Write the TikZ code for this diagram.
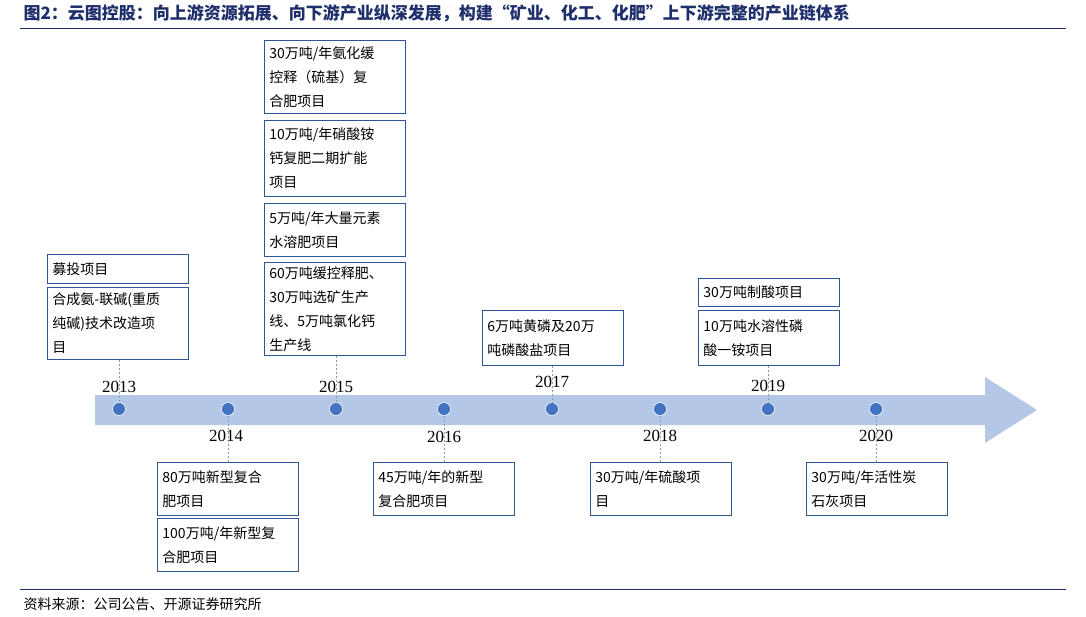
\documentclass[tikz,border=0pt]{standalone}
\usepackage{fontspec}
\setmainfont{Liberation Serif}
\newfontfamily\cjk{Noto Sans CJK SC}
\definecolor{navy}{HTML}{1F2F6B}
\definecolor{bandc}{HTML}{B4C7E7}
\definecolor{dotc}{HTML}{4472C4}
\definecolor{boxc}{HTML}{2F5597}
\begin{document}
\begin{tikzpicture}[x=1pt,y=-1pt,
  bx/.style={draw=boxc,line width=0.9pt,anchor=north west,inner xsep=5pt,inner ysep=2pt,align=left,font=\cjk\fontsize{14}{24}\selectfont,text width=131pt},
  dotn/.style={circle,fill=dotc,draw=white,line width=0.6pt,minimum size=13pt,inner sep=0pt},
  yr/.style={font=\fontsize{17}{17}\selectfont},
  dl/.style={draw=dotc!70,line width=0.6pt,dash pattern=on 2pt off 2pt}]
\useasboundingbox (0,0) rectangle (1086,616);
\node[anchor=west,text=navy,font=\cjk\bfseries\fontsize{17}{17}\selectfont] (title) at (20,13) {图2：云图控股：向上游资源拓展、向下游产业纵深发展，构建“矿业、化工、化肥”上下游完整的产业链体系};
\draw[navy,line width=1pt] (20,28) -- (1066,28);
\fill[bandc] (95,395) -- (985,395) -- (985,377) -- (1037,410) -- (985,443) -- (985,425) -- (95,425) -- cycle;
\foreach \n/\x in {a/119,b/228,c/336,d/444,e/552,f/660,g/768,h/876}{\node[dotn] (\n) at (\x,409) {};}
\node[yr] at (119,387) {2013};
\node[yr] at (226,436) {2014};
\node[yr] at (336,387) {2015};
\node[yr] at (444,437) {2016};
\node[yr] at (552,382) {2017};
\node[yr] at (660,436) {2018};
\node[yr] at (768,386) {2019};
\node[yr] at (876,436) {2020};
% boxes
\node[bx,minimum height=29pt] (m1) at (47,254) {募投项目};
\node[bx,minimum height=72pt] (m2) at (47,287) {合成氨-联碱(重质\\纯碱)技术改造项\\目};
\node[bx,minimum height=73pt] (c1) at (264,40) {30万吨/年氨化缓\\控释（硫基）复\\合肥项目};
\node[bx,minimum height=76pt] (c2) at (264,120) {10万吨/年硝酸铵\\钙复肥二期扩能\\项目};
\node[bx,minimum height=53pt] (c3) at (264,203) {5万吨/年大量元素\\水溶肥项目};
\node[bx,minimum height=93pt] (c4) at (264,262) {60万吨缓控释肥、\\30万吨选矿生产\\线、5万吨氯化钙\\生产线};
\node[bx,minimum height=55pt] (e1) at (482,310) {6万吨黄磷及20万\\吨磷酸盐项目};
\node[bx,minimum height=28pt] (g1) at (698,278) {30万吨制酸项目};
\node[bx,minimum height=55pt] (g2) at (698,310) {10万吨水溶性磷\\酸一铵项目};
\node[bx,minimum height=53pt] (b1) at (157,462) {80万吨新型复合\\肥项目};
\node[bx,minimum height=53pt] (b2) at (157,518) {100万吨/年新型复\\合肥项目};
\node[bx,minimum height=53pt] (d1) at (373,462) {45万吨/年的新型\\复合肥项目};
\node[bx,minimum height=53pt] (f1) at (590,462) {30万吨/年硫酸项\\目};
\node[bx,minimum height=53pt] (h1) at (806,462) {30万吨/年活性炭\\石灰项目};
% dashed connectors
\draw[dl] (m2.south -| a) -- (a.north);
\draw[dl] (c4.south -| c) -- (c.north);
\draw[dl] (e1.south -| e) -- (e.north);
\draw[dl] (g2.south -| g) -- (g.north);
\draw[dl] (b) -- (b1.north -| b);
\draw[dl] (d) -- (d1.north -| d);
\draw[dl] (f) -- (f1.north -| f);
\draw[dl] (h) -- (h1.north -| h);
\draw[navy,line width=0.6pt] (20,589) -- (1066,589);
\node[anchor=west,font=\cjk\fontsize{14}{14}\selectfont] (src) at (20,604) {资料来源：公司公告、开源证券研究所};
\end{tikzpicture}
\end{document}
